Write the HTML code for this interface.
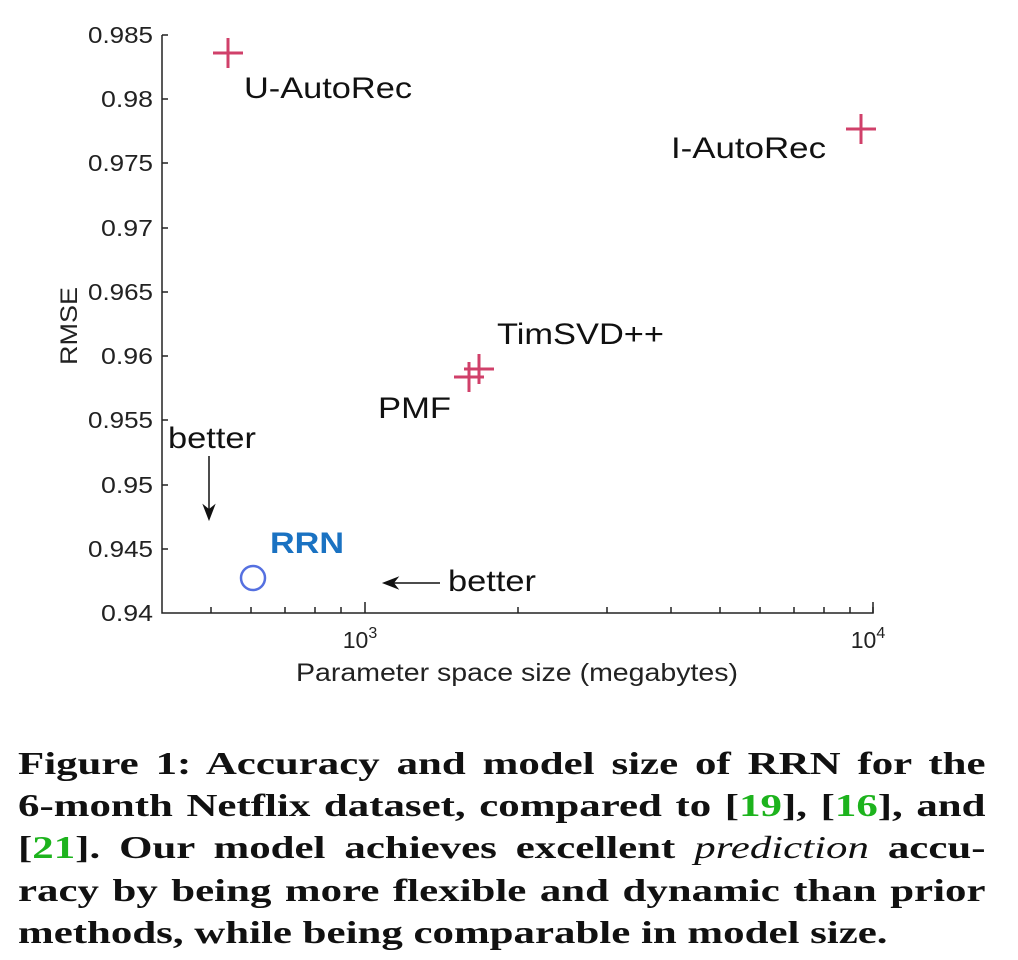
<!DOCTYPE html>
<html><head><meta charset="utf-8"><style>
body{margin:0;background:#fff;width:1018px;height:960px;overflow:hidden;position:relative}
.cap{position:absolute;left:18px;width:722px;transform:scaleX(1.34);transform-origin:0 0;font-family:"Liberation Serif",serif;font-weight:bold;font-size:32px;line-height:42px;text-align:justify;text-align-last:justify;color:#111;white-space:nowrap}
.g{color:#1db31d}
text{}
</style></head><body>
<svg width="1018" height="720" style="position:absolute;left:0;top:0" font-family="Liberation Sans, sans-serif">
<g stroke="#222" stroke-width="1.5" fill="none">
<path d="M162 35V613H873V607"/>
<path d="M162 35h6M162 99h6M162 163h6M162 228h6M162 292h6M162 356h6M162 420h6M162 485h6M162 549h6"/>
<path d="M365 613v-11M873 613v-11"/>
<path d="M211 613v-6M251 613v-6M285 613v-6M315 613v-6M341 613v-6M518 613v-6M607 613v-6M671 613v-6M720 613v-6M760 613v-6M794 613v-6M824 613v-6M850 613v-6"/>
</g>
<g font-size="23" fill="#222" text-anchor="end">
<text x="153" y="43" textLength="65" lengthAdjust="spacingAndGlyphs">0.985</text><text x="153" y="107" textLength="52" lengthAdjust="spacingAndGlyphs">0.98</text><text x="153" y="171" textLength="65" lengthAdjust="spacingAndGlyphs">0.975</text>
<text x="153" y="236" textLength="52" lengthAdjust="spacingAndGlyphs">0.97</text><text x="153" y="300" textLength="65" lengthAdjust="spacingAndGlyphs">0.965</text><text x="153" y="364" textLength="52" lengthAdjust="spacingAndGlyphs">0.96</text>
<text x="153" y="428" textLength="65" lengthAdjust="spacingAndGlyphs">0.955</text><text x="153" y="493" textLength="52" lengthAdjust="spacingAndGlyphs">0.95</text><text x="153" y="557" textLength="65" lengthAdjust="spacingAndGlyphs">0.945</text>
<text x="153" y="621" textLength="52" lengthAdjust="spacingAndGlyphs">0.94</text>
</g>
<g font-size="23" fill="#222" text-anchor="middle">
<text x="360" y="648">10<tspan font-size="16" dy="-10">3</tspan></text>
<text x="868" y="648">10<tspan font-size="16" dy="-10">4</tspan></text>
<text x="517" y="681" textLength="442" lengthAdjust="spacingAndGlyphs" font-size="25">Parameter space size (megabytes)</text>
<text transform="translate(77,326) rotate(-90)" textLength="78" lengthAdjust="spacingAndGlyphs" font-size="24">RMSE</text>
</g>
<g stroke="#d0406a" stroke-width="3">
<path d="M213 53h30M228 38v30"/>
<path d="M846 129h30M861 114v30"/>
<path d="M454 377h30M469 362v30"/>
<path d="M464 369h30M479 354v30"/>
</g>
<circle cx="253" cy="578" r="12" fill="none" stroke="#5570e0" stroke-width="2.5"/>
<g font-size="30" fill="#111">
<text x="244" y="98" textLength="168" lengthAdjust="spacingAndGlyphs">U-AutoRec</text>
<text x="671" y="158" textLength="155" lengthAdjust="spacingAndGlyphs">I-AutoRec</text>
<text x="497" y="344" textLength="167" lengthAdjust="spacingAndGlyphs">TimSVD++</text>
<text x="378" y="418" textLength="73" lengthAdjust="spacingAndGlyphs">PMF</text>
<text x="168" y="448" textLength="88" lengthAdjust="spacingAndGlyphs">better</text>
<text x="448" y="591" textLength="88" lengthAdjust="spacingAndGlyphs">better</text>
</g>
<text x="270" y="553" font-size="30" font-weight="bold" fill="#1a72c2" textLength="74" lengthAdjust="spacingAndGlyphs">RRN</text>
<g stroke="#111" stroke-width="1.5" fill="#111">
<path d="M209 456V514" fill="none"/><path d="M204 506L209 519L214 506L209 510Z"/>
<path d="M440 583H390" fill="none"/><path d="M397 578L384 583L397 588L393 583Z"/>
</g>
</svg>
<div class="cap" style="top:742px">Figure 1: Accuracy and model size of RRN for the</div>
<div class="cap" style="top:784px">6-month Netflix dataset, compared to [<span class="g">19</span>], [<span class="g">16</span>], and</div>
<div class="cap" style="top:826px">[<span class="g">21</span>]. Our model achieves excellent <i style="font-weight:normal">prediction</i> accu-</div>
<div class="cap" style="top:869px">racy by being more flexible and dynamic than prior</div>
<div class="cap" style="top:911px;text-align-last:left">methods, while being comparable in model size.</div>
</body></html>
